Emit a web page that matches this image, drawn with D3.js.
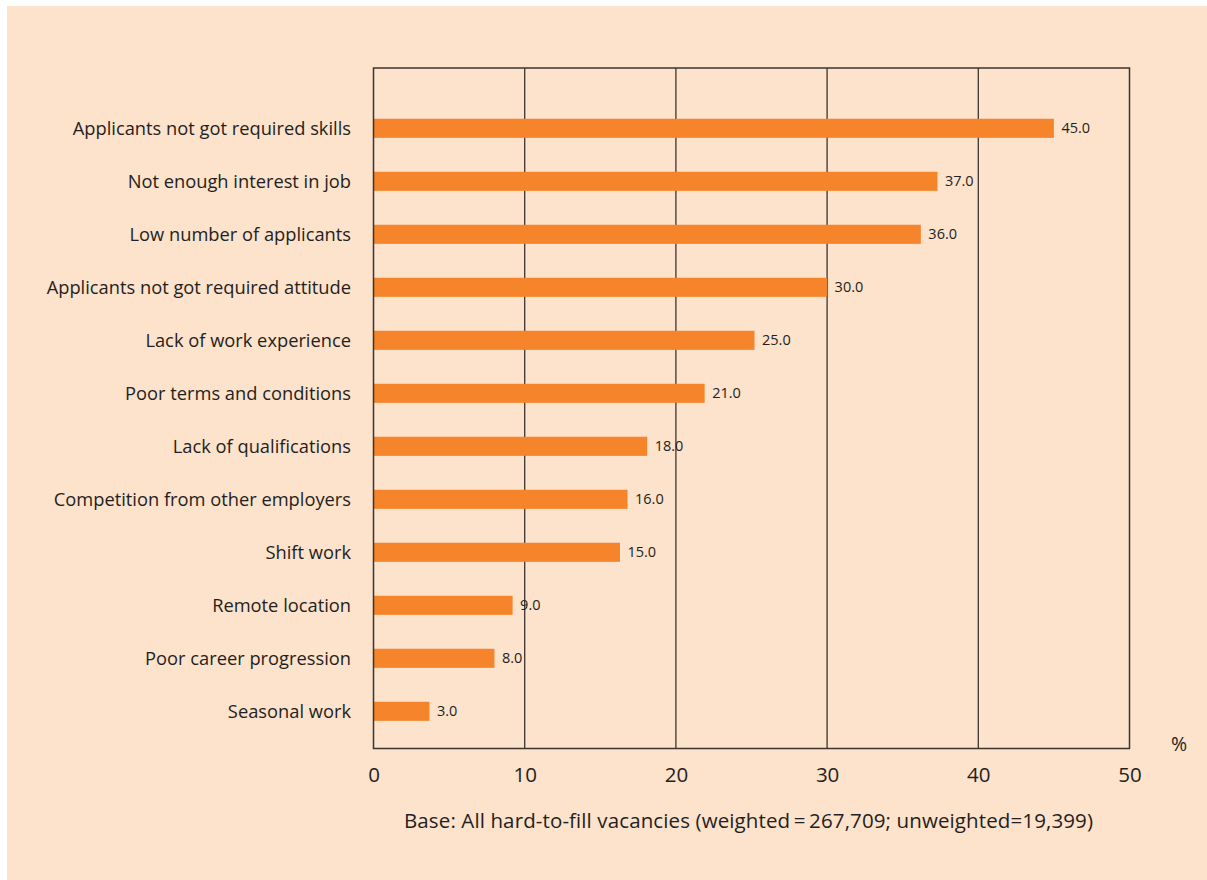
<!DOCTYPE html>
<html><head><meta charset="utf-8">
<script src="https://cdn.jsdelivr.net/npm/d3@7"></script>
<style>
html,body{margin:0;padding:0;background:#fff;}
svg{display:block;}
text{font-family:"Open Sans","Noto Sans",sans-serif;fill:#231f20;}
</style></head>
<body>
<svg id="chart" width="1207" height="880"></svg>
<script>
const categories = [
  "Applicants not got required skills",
  "Not enough interest in job",
  "Low number of applicants",
  "Applicants not got required attitude",
  "Lack of work experience",
  "Poor terms and conditions",
  "Lack of qualifications",
  "Competition from other employers",
  "Shift work",
  "Remote location",
  "Poor career progression",
  "Seasonal work"
];
// bar lengths as drawn in the picture
const barValues = [45.0, 37.3, 36.2, 30.0, 25.2, 21.9, 18.1, 16.8, 16.3, 9.2, 8.0, 3.7];
// printed value labels
const valueLabels = ["45.0","37.0","36.0","30.0","25.0","21.0","18.0","16.0","15.0","9.0","8.0","3.0"];
const xTicks = [0, 10, 20, 30, 40, 50];
const axisUnit = "%";
const baseNote = "Base: All hard-to-fill vacancies (weighted\u2009=\u2009267,709; unweighted=19,399)";

const svg = d3.select("#chart");
svg.append("rect").attr("x",7).attr("y",6).attr("width",1200).attr("height",874).attr("fill","#fde2cc");

const pLeft = 373.5, pRight = 1129.5, pTop = 68, pBottom = 748.5;
const x = d3.scaleLinear().domain([0,50]).range([pLeft,pRight]);
const y = d3.scaleBand().domain(categories).range([101.8,737.8]).paddingInner(0.64).paddingOuter(0.32);

const lineColor = "#3b3431";
// gridlines
svg.append("g").selectAll("line").data(xTicks.filter(d=>d>0 && d<50)).join("line")
  .attr("x1",d=>x(d)).attr("x2",d=>x(d)).attr("y1",pTop).attr("y2",pBottom)
  .attr("stroke",lineColor).attr("stroke-width",1.3);

// bars
svg.append("g").selectAll("rect").data(categories).join("rect")
  .attr("x",x(0)).attr("y",d=>y(d))
  .attr("width",(d,i)=>x(barValues[i])-x(0))
  .attr("height",y.bandwidth())
  .attr("fill","#f5842a");

// frame
svg.append("rect").attr("x",pLeft).attr("y",pTop).attr("width",pRight-pLeft).attr("height",pBottom-pTop)
  .attr("fill","none").attr("stroke",lineColor).attr("stroke-width",1.5);

// category labels
svg.append("g").selectAll("text").data(categories).join("text")
  .attr("x",351).attr("y",d=>y(d)+y.bandwidth()/2+7)
  .attr("text-anchor","end").attr("font-size",18.3).text(d=>d);

// value labels
svg.append("g").selectAll("text").data(categories).join("text")
  .attr("x",(d,i)=>x(barValues[i])+7.5).attr("y",d=>y(d)+y.bandwidth()/2+5)
  .attr("font-size",14.5).text((d,i)=>valueLabels[i]);

// x axis ticks
const xAxis = d3.axisBottom(x).tickValues(xTicks).tickSize(0).tickPadding(0).tickFormat(d3.format("d"));
const gx = svg.append("g").attr("transform",`translate(0,${pBottom})`).call(xAxis);
gx.select(".domain").remove();
gx.selectAll("text").attr("font-size",20.5).attr("dy",null).attr("y",33)
  .style("font-family",'"Open Sans","Noto Sans",sans-serif').attr("fill","#231f20");

svg.append("text").attr("x",1179).attr("y",751).attr("text-anchor","middle").attr("font-size",19.5).text(axisUnit);

svg.append("text").attr("x",748.5).attr("y",828).attr("text-anchor","middle").attr("font-size",20.5)
  .attr("textLength",689).attr("lengthAdjust","spacing").text(baseNote);
</script>
</body></html>
